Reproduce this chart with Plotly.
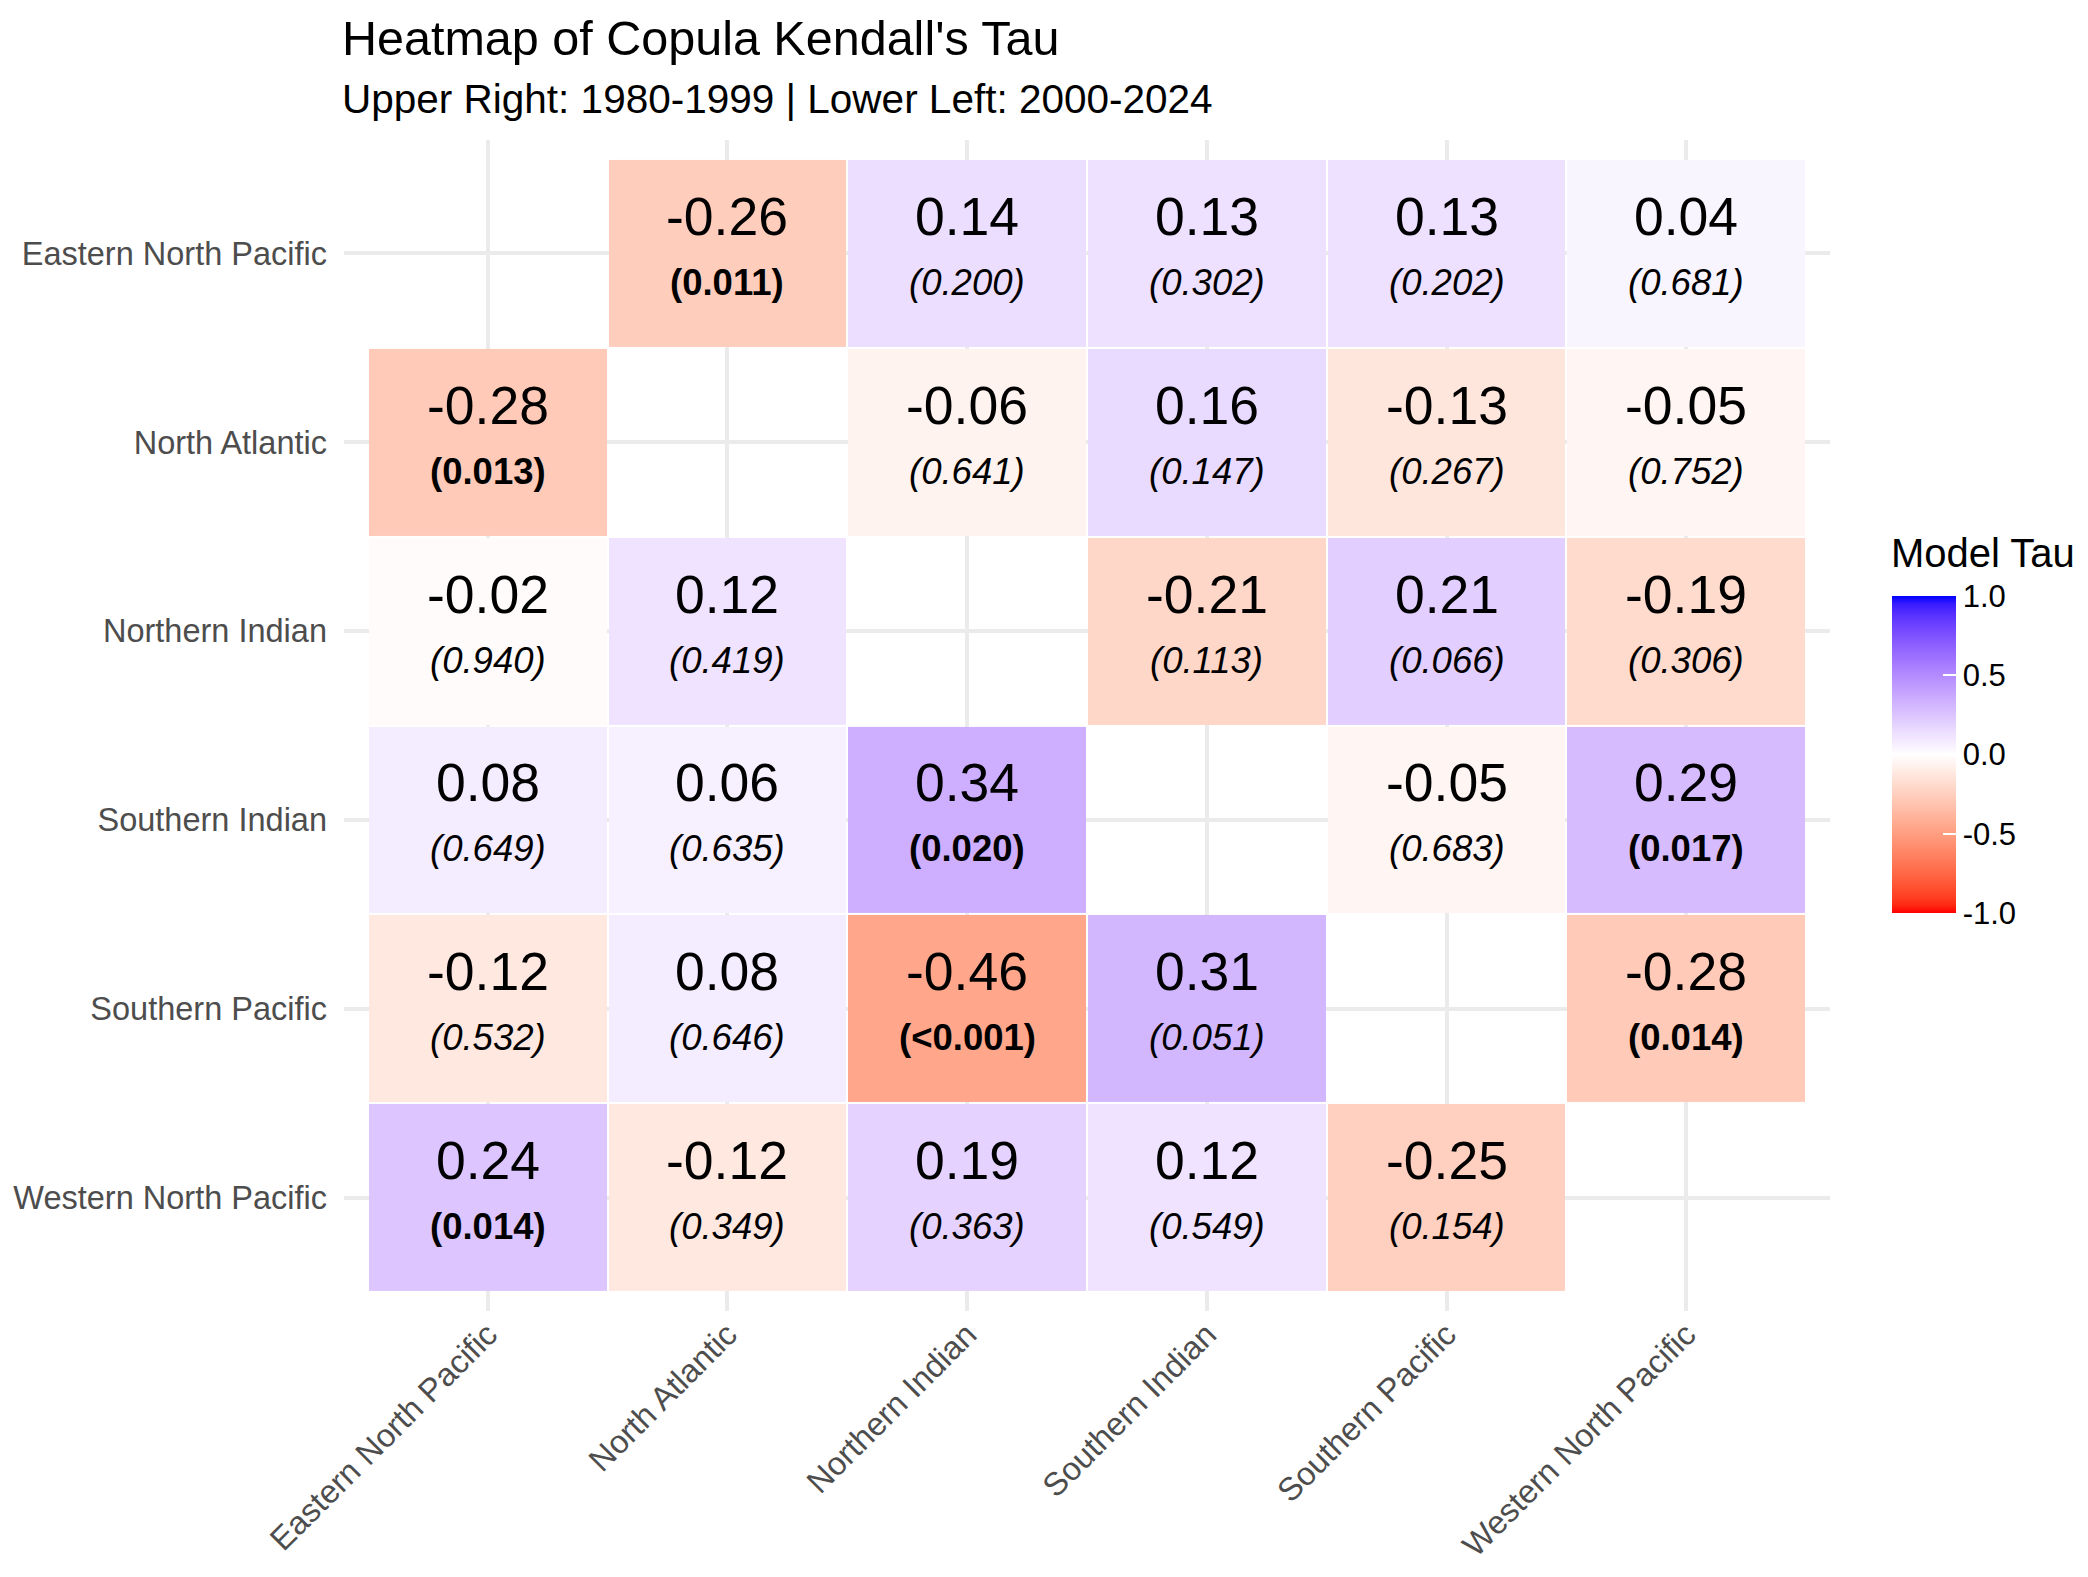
import numpy as np
import plotly.graph_objects as go

# basins, same order on both axes (rows top -> bottom, columns left -> right)
basins = [
    "Eastern North Pacific",
    "North Atlantic",
    "Northern Indian",
    "Southern Indian",
    "Southern Pacific",
    "Western North Pacific",
]

# Kendall's tau per row (upper right: 1980-1999, lower left: 2000-2024)
tau_enp = [None, -0.26, 0.14, 0.13, 0.13, 0.04]
tau_na = [-0.28, None, -0.06, 0.16, -0.13, -0.05]
tau_ni = [-0.02, 0.12, None, -0.21, 0.21, -0.19]
tau_si = [0.08, 0.06, 0.34, None, -0.05, 0.29]
tau_sp = [-0.12, 0.08, -0.46, 0.31, None, -0.28]
tau_wnp = [0.24, -0.12, 0.19, 0.12, -0.25, None]

# p-values as printed in the cells
p_enp = [None, "0.011", "0.200", "0.302", "0.202", "0.681"]
p_na = ["0.013", None, "0.641", "0.147", "0.267", "0.752"]
p_ni = ["0.940", "0.419", None, "0.113", "0.066", "0.306"]
p_si = ["0.649", "0.635", "0.020", None, "0.683", "0.017"]
p_sp = ["0.532", "0.646", "<0.001", "0.051", None, "0.014"]
p_wnp = ["0.014", "0.349", "0.363", "0.549", "0.154", None]

cbar_ticks = [-1.0, -0.5, 0.0, 0.5, 1.0]

tau = [tau_enp, tau_na, tau_ni, tau_si, tau_sp, tau_wnp]
pvals = [p_enp, p_na, p_ni, p_si, p_sp, p_wnp]

# the page body has an 8px margin, so the figure is 8px smaller than the window
# and every pixel position below is given in page pixels minus that offset
OFF = 8
W, H = 2088 - OFF, 1577 - OFF
ML, MR, MT, MB = 344 - OFF, 258, 140 - OFF, 266
FONT = "Liberation Sans, Arial, sans-serif"


def px_y(ypx):
    """page pixel row -> paper y"""
    return (H - MB - (ypx - OFF)) / (H - MT - MB)


def px_x(xpx):
    """page pixel column -> paper x"""
    return ((xpx - OFF) - ML) / (W - ML - MR)


# --- red / white / blue gradient interpolated in Lab, like scale_fill_gradient2 ---
def srgb_to_lab(rgb):
    c = np.array(rgb) / 255.0
    c = np.where(c > 0.04045, ((c + 0.055) / 1.055) ** 2.4, c / 12.92)
    m = np.array([[0.4124, 0.3576, 0.1805],
                  [0.2126, 0.7152, 0.0722],
                  [0.0193, 0.1192, 0.9505]])
    xyz = m @ c / np.array([0.95047, 1.0, 1.08883])
    f = np.where(xyz > 0.008856, np.cbrt(xyz), 7.787 * xyz + 16 / 116)
    return np.array([116 * f[1] - 16, 500 * (f[0] - f[1]), 200 * (f[1] - f[2])])


def lab_to_srgb(lab):
    fy = (lab[0] + 16) / 116
    fx = fy + lab[1] / 500
    fz = fy - lab[2] / 200
    f = np.array([fx, fy, fz])
    xyz = np.where(f ** 3 > 0.008856, f ** 3, (f - 16 / 116) / 7.787)
    xyz = xyz * np.array([0.95047, 1.0, 1.08883])
    m = np.array([[3.2406, -1.5372, -0.4986],
                  [-0.9689, 1.8758, 0.0415],
                  [0.0557, -0.2040, 1.0570]])
    c = m @ xyz
    c = np.where(c > 0.0031308, 1.055 * np.abs(c) ** (1 / 2.4) - 0.055, 12.92 * c)
    c = np.clip(c, 0, 1) * 255
    return "rgb(%d,%d,%d)" % tuple(np.round(c))


lab_low = srgb_to_lab([255, 0, 0])
lab_mid = srgb_to_lab([255, 255, 255])
lab_high = srgb_to_lab([0, 0, 255])
colorscale = []
for s in np.linspace(0, 1, 41):
    if s < 0.5:
        t = s / 0.5
        lab = lab_low + (lab_mid - lab_low) * t
    else:
        t = (s - 0.5) / 0.5
        lab = lab_mid + (lab_high - lab_mid) * t
    colorscale.append([float(s), lab_to_srgb(lab)])

z = [[np.nan if v is None else v for v in row] for row in tau]

fig = go.Figure()
fig.add_trace(
    go.Heatmap(
        x=basins,
        y=basins,
        z=z,
        zmin=-1,
        zmax=1,
        colorscale=colorscale,
        xgap=2,
        ygap=2,
        hoverongaps=False,
        colorbar=dict(
            tickvals=cbar_ticks,
            ticktext=["%.1f" % v for v in cbar_ticks],
            tickfont=dict(size=31, color="black"),
            ticks="inside",
            ticklen=13,
            tickwidth=2,
            tickcolor="white",
            outlinewidth=0,
            thickness=64,
            lenmode="pixels",
            len=317,
            x=px_x(1892),
            xanchor="left",
            y=px_y(913),
            yanchor="bottom",
            xpad=0,
            ypad=0,
        ),
    )
)

# cell labels: tau on top, p-value below (bold when significant)
for i, row in enumerate(basins):
    for j, col in enumerate(basins):
        v = tau[i][j]
        if v is None:
            continue
        p = pvals[i][j]
        sig = p.startswith("<") or float(p) < 0.05
        fig.add_annotation(
            x=col, y=row, xref="x", yref="y",
            text="%.2f" % v,
            showarrow=False, yshift=37,
            font=dict(size=53.5, color="black", family=FONT),
        )
        fig.add_annotation(
            x=col, y=row, xref="x", yref="y",
            text=("<b>(%s)</b>" if sig else "<i>(%s)</i>") % p,
            showarrow=False, yshift=-29,
            font=dict(size=36.5, color="black", family=FONT),
        )

fig.add_annotation(
    text="Heatmap of Copula Kendall's Tau",
    xref="paper", yref="paper", x=px_x(340), y=px_y(38), xanchor="left", yanchor="middle",
    showarrow=False, font=dict(size=48.5, color="black", family=FONT),
)
fig.add_annotation(
    text="Upper Right: 1980-1999 | Lower Left: 2000-2024",
    xref="paper", yref="paper", x=px_x(340), y=px_y(99), xanchor="left", yanchor="middle",
    showarrow=False, font=dict(size=40.5, color="black", family=FONT),
)
# legend title
fig.add_annotation(
    text="Model Tau",
    xref="paper", yref="paper", x=px_x(1889), y=px_y(553), xanchor="left", yanchor="middle",
    showarrow=False, font=dict(size=40, color="black", family=FONT),
)

axis_common = dict(
    type="category",
    categoryorder="array",
    categoryarray=basins,
    automargin=False,
    showgrid=True,
    gridcolor="#EBEBEB",
    gridwidth=3.5,
    showline=False,
    zeroline=False,
    ticks="",
    tickfont=dict(size=32.5, color="#4D4D4D", family=FONT),
)

fig.update_layout(
    width=W,
    height=H,
    margin=dict(l=ML, r=MR, t=MT, b=MB, autoexpand=False),
    paper_bgcolor="white",
    plot_bgcolor="white",
    font=dict(family=FONT, color="black"),
    xaxis=dict(axis_common, range=[-0.6, 5.6], tickangle=-45, ticklabelstandoff=-3),
    yaxis=dict(axis_common, range=[5.6, -0.6], ticklabelstandoff=16),
)

fig.write_html("out.html")
